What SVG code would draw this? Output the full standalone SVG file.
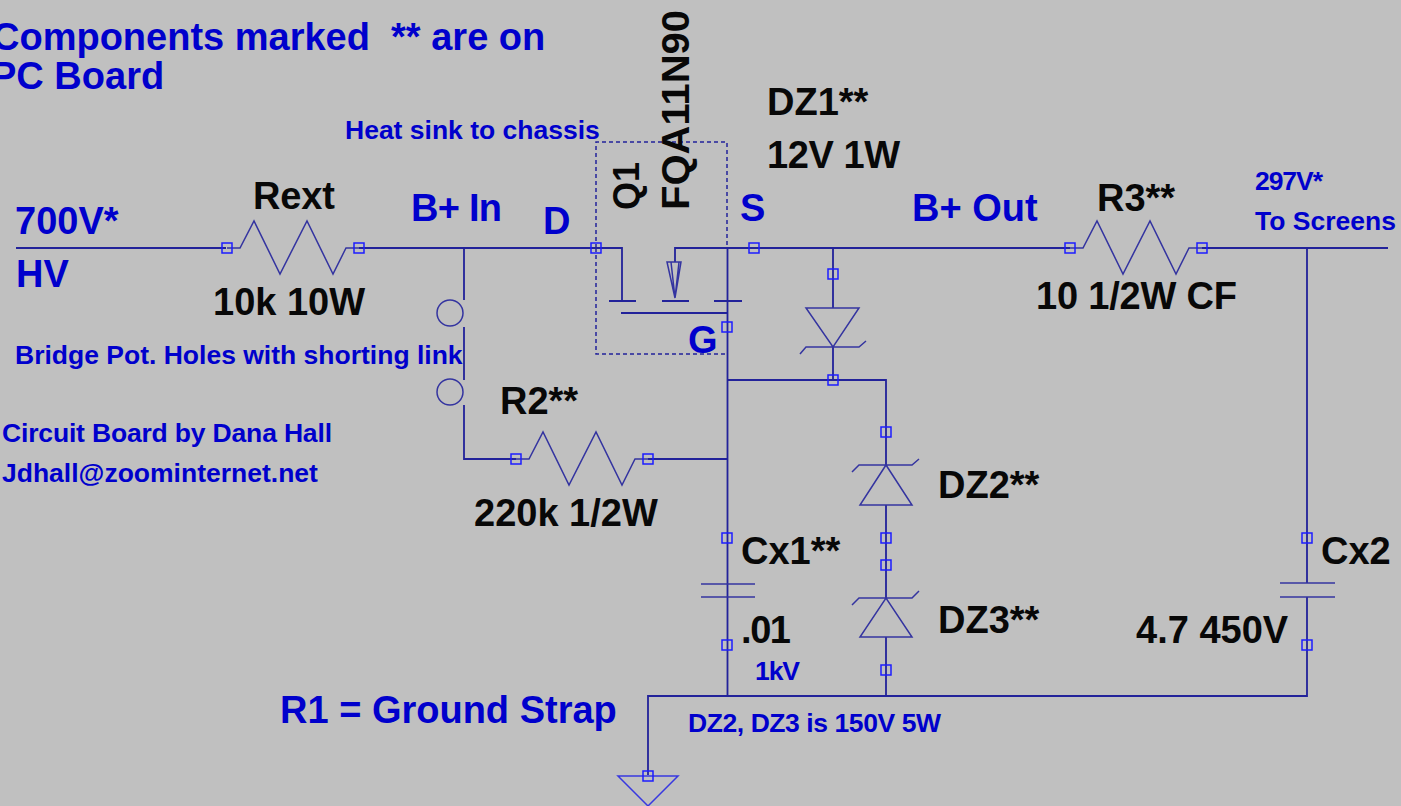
<svg xmlns="http://www.w3.org/2000/svg" width="1401" height="806" viewBox="0 0 1401 806">
<style>
.w{fill:none;stroke:#22229a;stroke-width:1.8}
.t{fill:none;stroke:#3434a0;stroke-width:1.5}
.p{fill:none;stroke:#1c1cff;stroke-width:1.5}
text{font-family:"Liberation Sans",Arial,sans-serif;font-weight:700;font-size:38px}
.s{font-size:26.5px}
.k{fill:#080808}.b{fill:#0000cc}
</style>
<defs>
<g id="pin"><rect x="-5" y="-5" width="10" height="10" class="p"/></g>
<path id="res" class="t" d="M0 0H13L27-27 53 26 80-27 106 26 119 0H132"/>
</defs>
<rect width="1401" height="806" fill="#c0c0c0"/>
<g id="connectors">
<path class="w" d="M16 248H226M359 248H622V301M464 248V300M464 327V380M464 405V459H516M648 459H727M675 262V248H1070M1202 248H1388M727.500 248V696M833 248V308M833 347V380M727 380H886V465M886 505V598M886 637V696M648 775V696H1307V597M1307 248V583M621 313H727M609 301H636M662 301H689M714 301H742"/>
<path d="M596 248V142H727V248M596 248V354H727" fill="none" stroke="#22229a" stroke-width="1.5" stroke-dasharray="4 3"/>
</g>
<g id="Rext"><use href="#res" x="227" y="248"/><use href="#pin" x="227" y="248"/><use href="#pin" x="359" y="248"/><text class="k" x="253" y="209" textLength="82">Rext</text><text class="k" x="213" y="315">10k 10W</text></g>
<g id="R2"><use href="#res" x="516" y="459"/><use href="#pin" x="516" y="459"/><use href="#pin" x="648" y="459"/><text class="k" x="500" y="414">R2**</text><text class="k" x="474" y="526">220k 1/2W</text></g>
<g id="R3"><use href="#res" x="1070" y="248"/><use href="#pin" x="1070" y="248"/><use href="#pin" x="1202" y="248"/><text class="k" x="1097" y="211">R3**</text><text class="k" x="1036" y="309" textLength="201">10 1/2W CF</text></g>
<g id="Q1">
<path class="t" d="M667 262H681L675 298ZM671 262L675 298 679 262"/>
<use href="#pin" x="596" y="248"/><use href="#pin" x="754" y="248"/><use href="#pin" x="727" y="327"/>
<text class="k" transform="translate(639 210) rotate(-90)" style="font-size:36px">Q1</text>
<text class="k" transform="translate(689 210) rotate(-90)" textLength="200" lengthAdjust="spacingAndGlyphs">FQA11N90</text>
</g>
<g id="DZ1"><path class="t" d="M806 308H859L833 347ZM800 354L806 347H859L866 341"/><use href="#pin" x="833" y="274"/><use href="#pin" x="833" y="380"/><text class="k" x="767" y="115">DZ1**</text><text class="k" x="767" y="168" textLength="133">12V 1W</text></g>
<g id="DZ2"><path class="t" d="M860 505H912L886 465ZM852 472L859 465H912L919 459"/><use href="#pin" x="886" y="432"/><use href="#pin" x="886" y="538"/><text class="k" x="938" y="498">DZ2**</text></g>
<g id="DZ3"><path class="t" d="M860 637H912L886 598ZM852 605L859 598H912L919 591"/><use href="#pin" x="886" y="565"/><use href="#pin" x="886" y="670"/><text class="k" x="938" y="633">DZ3**</text></g>
<g id="Cx1"><path class="t" d="M701 584H755M701 597H755"/><use href="#pin" x="727" y="538"/><use href="#pin" x="727" y="645"/><text class="k" x="741" y="564">Cx1**</text><text class="k" x="741" y="643" textLength="50">.01</text></g>
<g id="Cx2"><path class="t" d="M1280 583H1335M1280 597H1335"/><use href="#pin" x="1307" y="538"/><use href="#pin" x="1307" y="645"/><text class="k" x="1321" y="564">Cx2</text><text class="k" x="1136" y="643">4.7 450V</text></g>
<g id="ground"><path d="M618 776H678L648 806Z" fill="none" stroke="#3838e0" stroke-width="1.5"/><use href="#pin" x="648" y="776"/></g>
<g id="jumper"><circle cx="450" cy="313" r="13" class="t"/><circle cx="450" cy="392" r="13" class="t"/></g>
<g id="labels">
<text class="b" x="-8" y="50" xml:space="preserve">Components marked  ** are on</text>
<text class="b" x="-9" y="89">PC Board</text>
<text class="b s" x="345" y="139">Heat sink to chassis</text>
<text class="b" x="15" y="234">700V*</text>
<text class="b" x="16" y="287">HV</text>
<text class="b" x="411" y="221" textLength="91">B+ In</text>
<text class="b" x="543" y="234">D</text>
<text class="b" x="740" y="221">S</text>
<text class="b" x="688" y="353">G</text>
<text class="b" x="912" y="221">B+ Out</text>
<text class="b s" x="1255" y="190" textLength="68">297V*</text>
<text class="b s" x="1255" y="230">To Screens</text>
<text class="b s" x="15" y="364">Bridge Pot. Holes with shorting link</text>
<text class="b s" x="2" y="442" textLength="330">Circuit Board by Dana Hall</text>
<text class="b s" x="2" y="482">Jdhall@zoominternet.net</text>
<text class="b s" x="755" y="680" textLength="45">1kV</text>
<text class="b" x="280" y="723">R1 = Ground Strap</text>
<text class="b s" x="688" y="732" textLength="253">DZ2, DZ3 is 150V 5W</text>
</g>
</svg>
